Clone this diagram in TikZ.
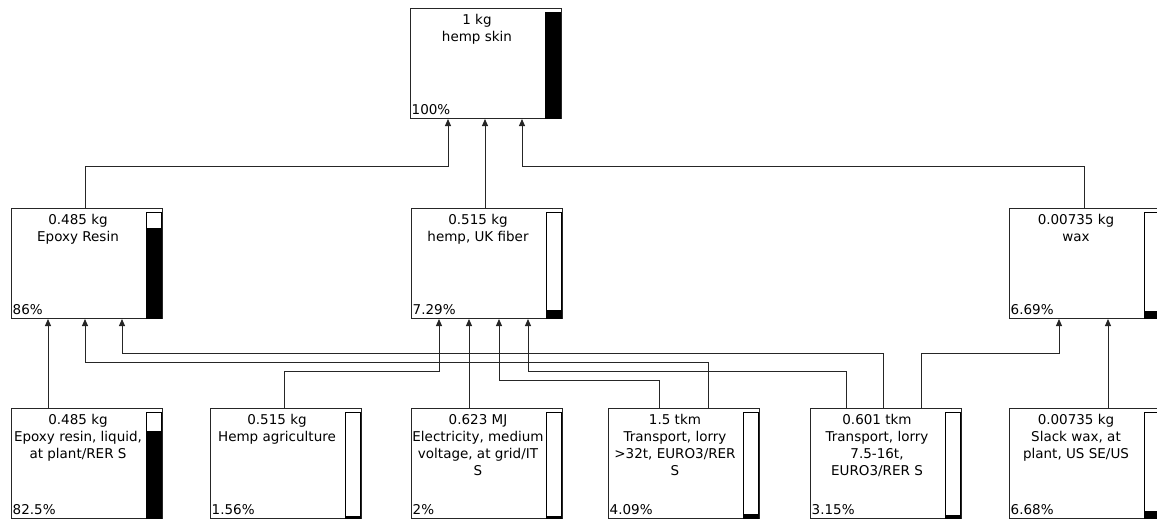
\documentclass[tikz,border=0pt]{standalone}
\usepackage{fontspec}
\setmainfont{DejaVu Sans}
\usetikzlibrary{arrows.meta,calc}
\tikzset{
  procbox/.style={draw=black!85, line width=1pt, fill=white, minimum width=151pt, minimum height=110pt, inner sep=0pt, anchor=north west},
  ptext/.style={font=\fontsize{13.5}{17}\selectfont, align=center, inner sep=0pt, anchor=north},
  ppct/.style={font=\fontsize{13.5}{15}\selectfont, inner sep=0pt, anchor=base west},
  barframe/.style={draw=black, line width=1pt, fill=white},
  conn/.style={draw=black!85, line width=1pt, -{Triangle[length=7pt,width=6pt]}},
}
\newcommand\procnode[6]{%
  \node[procbox] (#1) at (#2,#3) {};
  \node[ptext] (#1-t) at ($(#1.north west)+(67,6.5)$) {#4};
  \node[ppct] (#1-p) at ($(#1.south west)+(1.5,-5)$) {#5};
  \draw[barframe] ($(#1.north east)+(-17,4)$) rectangle ($(#1.south east)+(-2,-1)$);
  \fill[black] ($(#1.south east)+(-17,-1)$) rectangle ($(#1.south east)+(-2,{-1-105*#6})$);
}
\begin{document}
\begin{tikzpicture}[x=1pt,y=-1pt]
\useasboundingbox (0,0) rectangle (1157,520);
\procnode{skin}{410}{8}{1 kg\\hemp skin}{100\%}{1}
\procnode{epoxy}{11}{208}{0.485 kg\\Epoxy Resin}{86\%}{0.86}
\procnode{fiber}{411}{208}{0.515 kg\\hemp, UK fiber}{7.29\%}{0.0729}
\procnode{wax}{1009}{208}{0.00735 kg\\wax}{6.69\%}{0.0669}
\procnode{liquid}{11}{408}{0.485 kg\\Epoxy resin, liquid,\\at plant/RER S}{82.5\%}{0.825}
\procnode{agri}{210}{408}{0.515 kg\\Hemp agriculture}{1.56\%}{0.0156}
\procnode{elec}{411}{408}{0.623 MJ\\Electricity, medium\\voltage, at grid/IT\\S}{2\%}{0.02}
\procnode{tlarge}{608}{408}{1.5 tkm\\Transport, lorry\\>32t, EURO3/RER\\S}{4.09\%}{0.0409}
\procnode{tsmall}{810}{408}{0.601 tkm\\Transport, lorry\\7.5-16t,\\EURO3/RER S}{3.15\%}{0.0315}
\procnode{slack}{1009}{408}{0.00735 kg\\Slack wax, at\\plant, US SE/US}{6.68\%}{0.0668}
% into skin
\draw[conn] ($(epoxy.north west)+(74,0)$) |- ($(skin.south west)+(38,47)$) -- ($(skin.south west)+(38,0)$);
\draw[conn] ($(fiber.north west)+(74,0)$) -- ($(skin.south west)+(75,0)$);
\draw[conn] ($(wax.north west)+(75,0)$) |- ($(skin.south west)+(112,47)$) -- ($(skin.south west)+(112,0)$);
% into epoxy
\draw[conn] ($(liquid.north west)+(37,0)$) -- ($(epoxy.south west)+(37,0)$);
\draw[conn] ($(tlarge.north west)+(100,0)$) |- ($(epoxy.south west)+(74,43)$) -- ($(epoxy.south west)+(74,0)$);
\draw[conn] ($(tsmall.north west)+(73,0)$) |- ($(epoxy.south west)+(111,34)$) -- ($(epoxy.south west)+(111,0)$);
% into fiber
\draw[conn] ($(agri.north west)+(74,0)$) |- ($(fiber.south west)+(28,52)$) -- ($(fiber.south west)+(28,0)$);
\draw[conn] ($(elec.north west)+(58,0)$) -- ($(fiber.south west)+(58,0)$);
\draw[conn] ($(tlarge.north west)+(51,0)$) |- ($(fiber.south west)+(88,61)$) -- ($(fiber.south west)+(88,0)$);
\draw[conn] ($(tsmall.north west)+(36,0)$) |- ($(fiber.south west)+(117,52)$) -- ($(fiber.south west)+(117,0)$);
% into wax
\draw[conn] ($(tsmall.north west)+(111,0)$) |- ($(wax.south west)+(50,34)$) -- ($(wax.south west)+(50,0)$);
\draw[conn] ($(slack.north west)+(99,0)$) -- ($(wax.south west)+(99,0)$);
\end{tikzpicture}
\end{document}
